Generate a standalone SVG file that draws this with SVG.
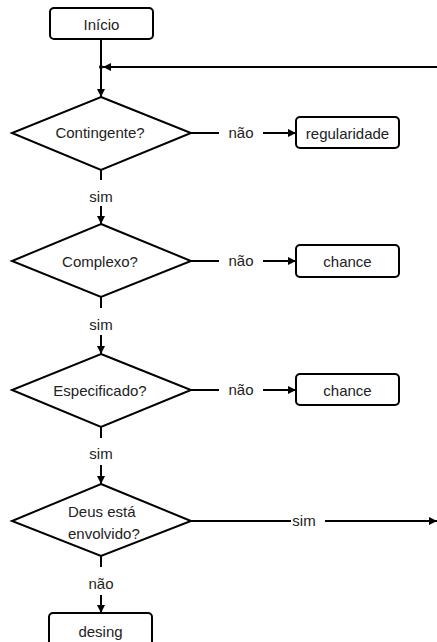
<svg xmlns="http://www.w3.org/2000/svg" width="437" height="642" viewBox="0 0 437 642">
<defs>
<style>
.box{fill:#fff;stroke:#000;stroke-width:2}
.dia{fill:#fff;stroke:#000;stroke-width:2}
.ln{fill:none;stroke:#000;stroke-width:2}
text{font-family:"Liberation Sans",Arial,sans-serif;font-size:15px;fill:#222}
.c{text-anchor:middle;dominant-baseline:central}
</style>
<marker id="ah" viewBox="0 0 8 8" refX="8" refY="4" markerWidth="4" markerHeight="4" orient="auto" markerUnits="strokeWidth">
<path d="M0,0 L8,4 L0,8 Z" fill="#000"/>
</marker>
</defs>
<rect width="437" height="642" fill="#fff"/>
<g id="connectors">
<path class="ln" d="M101,39 V97" marker-end="url(#ah)"/>
<path class="ln" d="M437,67 H103" marker-end="url(#ah)"/>
<circle cx="101" cy="67" r="2" fill="#000"/>
<path class="ln" d="M191,133 H219"/>
<text class="c" x="241" y="132">não</text>
<path class="ln" d="M263,133 H296" marker-end="url(#ah)"/>
<path class="ln" d="M101,170 V180"/>
<text class="c" x="101" y="196">sim</text>
<path class="ln" d="M101,206 V224" marker-end="url(#ah)"/>
<path class="ln" d="M191,261 H219"/>
<text class="c" x="241" y="260">não</text>
<path class="ln" d="M263,261 H296" marker-end="url(#ah)"/>
<path class="ln" d="M101,297 V308"/>
<text class="c" x="101" y="324">sim</text>
<path class="ln" d="M101,335 V354" marker-end="url(#ah)"/>
<path class="ln" d="M191,390 H219"/>
<text class="c" x="241" y="389">não</text>
<path class="ln" d="M263,390 H296" marker-end="url(#ah)"/>
<path class="ln" d="M101,427 V438"/>
<text class="c" x="101" y="453">sim</text>
<path class="ln" d="M101,465 V484" marker-end="url(#ah)"/>
<path class="ln" d="M191,521 H291"/>
<text class="c" x="304" y="520">sim</text>
<path class="ln" d="M325,521 H437" marker-end="url(#ah)"/>
<path class="ln" d="M101,556 V567"/>
<text class="c" x="101" y="583">não</text>
<path class="ln" d="M101,595 V613" marker-end="url(#ah)"/>
</g>
<g id="inicio">
<rect class="box" x="50" y="8" width="103" height="31" rx="4"/>
<text class="c" x="101.5" y="24">Início</text>
</g>
<g id="contingente">
<polygon class="dia" points="101,97 191,133 101,170 12,133"/>
<text class="c" x="100" y="132">Contingente?</text>
</g>
<g id="regularidade">
<rect class="box" x="296" y="117" width="103" height="31" rx="4"/>
<text class="c" x="347.5" y="133">regularidade</text>
</g>
<g id="complexo">
<polygon class="dia" points="101,224 191,261 101,297 12,261"/>
<text class="c" x="100" y="261">Complexo?</text>
</g>
<g id="chance1">
<rect class="box" x="296" y="245" width="103" height="32" rx="4"/>
<text class="c" x="347.5" y="261">chance</text>
</g>
<g id="especificado">
<polygon class="dia" points="101,354 191,390 101,427 12,390"/>
<text class="c" x="100" y="390">Especificado?</text>
</g>
<g id="chance2">
<rect class="box" x="296" y="374" width="103" height="31" rx="4"/>
<text class="c" x="347.5" y="390">chance</text>
</g>
<g id="deus">
<polygon class="dia" points="101,484 191,521 101,556 12,521"/>
<text x="68" y="511" dominant-baseline="central">Deus está</text>
<text x="68" y="533" dominant-baseline="central">envolvido?</text>
</g>
<g id="desing">
<rect class="box" x="49" y="613" width="103" height="40" rx="4"/>
<text class="c" x="100.5" y="631">desing</text>
</g>
</svg>
